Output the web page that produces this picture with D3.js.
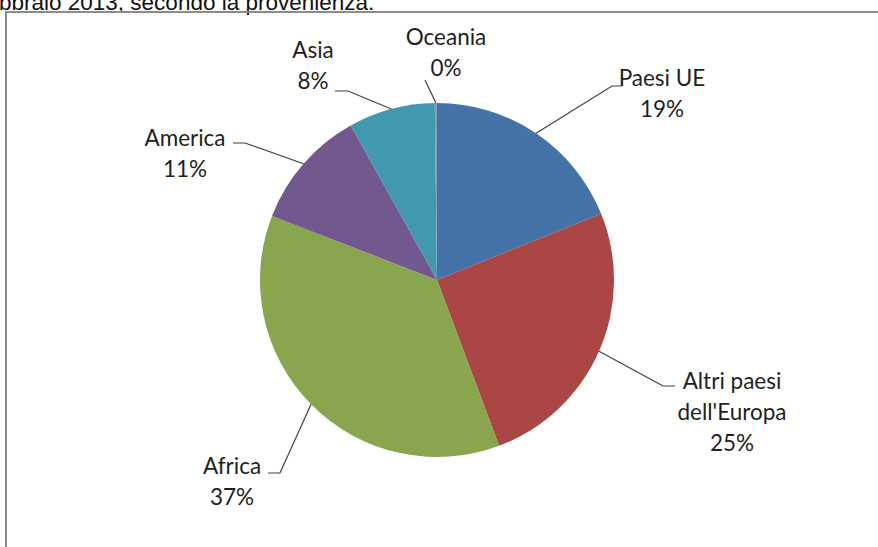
<!DOCTYPE html>
<html>
<head>
<meta charset="utf-8">
<script src="https://cdn.jsdelivr.net/npm/d3@7"></script>
<style>
  body { margin: 0; background: #fff; }
  svg { display: block; }
</style>
</head>
<body>
<div id="chart"></div>
<script>
// provenienza e quote (%)
var categories = ["Paesi UE", "Altri paesi dell'Europa", "Africa", "America", "Asia", "Oceania"];
var values = [18.9, 25.4, 36.6, 11.0, 7.9, 0.2];
var colors = ["#4572A7", "#AA4643", "#89A54E", "#71588F", "#4198AF", "#8E9AA6"];

// righe del testo di ogni etichetta
var labelLines = [["Paesi UE"], ["Altri paesi", "dell'Europa"], ["Africa"], ["America"], ["Asia"], ["Oceania"]];

var width = 878,
    height = 547,
    cx = 437, cy = 280,
    radius = 177;

// dove stanno le etichette (centro del testo, prima riga) e il gomito della linea guida
var labelPos = [
  { x: 662, y: 78, elbow: [612, 86], end: [622, 86] },
  { x: 732, y: 381, elbow: [663, 386], end: [675, 386] },
  { x: 232, y: 466, elbow: [280, 473], end: [268, 473] },
  { x: 185, y: 138, elbow: [245, 143], end: [233, 143] },
  { x: 313, y: 50, elbow: [348, 91], end: [335, 91] },
  { x: 446, y: 37, elbow: [425, 80], end: null }
];
var lineH = 31;

var svg = d3.select("#chart").append("svg")
    .attr("width", width)
    .attr("height", height);

// titolo tagliato in alto
svg.append("text")
    .attr("x", -1)
    .attr("y", 10)
    .style("font-family", "Liberation Sans, Arial, sans-serif")
    .style("font-size", "22.5px")
    .style("fill", "#111")
    .text("bbraio 2013, secondo la provenienza.");

// cornice del grafico
svg.append("path")
    .attr("d", "M6," + height + "V12H" + width)
    .attr("fill", "none")
    .attr("stroke", "#8c8c8c")
    .attr("stroke-width", 2);

var data = categories.map(function (c, i) {
  return { name: c, value: values[i], color: colors[i], lines: labelLines[i], pos: labelPos[i] };
});

var pie = d3.pie()
    .sort(null)
    .value(function (d) { return d.value; });

var arc = d3.arc()
    .outerRadius(radius)
    .innerRadius(0);

var g = svg.append("g")
    .attr("transform", "translate(" + cx + "," + cy + ")");

var arcs = pie(data);

g.selectAll(".arc")
    .data(arcs)
    .enter().append("path")
    .attr("class", "arc")
    .attr("d", arc)
    .style("fill", function (d) { return d.data.color; });

// linee guida
svg.selectAll(".leader")
    .data(arcs)
    .enter().append("polyline")
    .attr("class", "leader")
    .attr("fill", "none")
    .attr("stroke", "#404040")
    .attr("stroke-width", 1.2)
    .attr("points", function (d) {
      var a = (d.startAngle + d.endAngle) / 2;
      var p0 = [cx + radius * Math.sin(a), cy - radius * Math.cos(a)];
      var pts = [p0, d.data.pos.elbow];
      if (d.data.pos.end) pts.push(d.data.pos.end);
      return pts.map(function (p) { return p.join(","); }).join(" ");
    });

// etichette
var labels = svg.selectAll(".lbl")
    .data(arcs)
    .enter().append("text")
    .attr("class", "lbl")
    .attr("text-anchor", "middle")
    .style("font-family", "Lato, sans-serif")
    .style("font-size", "22.5px")
    .style("fill", "#1f1f1f");

labels.each(function (d) {
  var t = d3.select(this);
  var lines = d.data.lines.concat([Math.round(d.data.value) + "%"]);
  lines.forEach(function (l, i) {
    t.append("tspan")
      .attr("x", d.data.pos.x)
      .attr("y", d.data.pos.y + i * lineH)
      .attr("dy", "0.35em")
      .text(l);
  });
});
</script>
</body>
</html>
